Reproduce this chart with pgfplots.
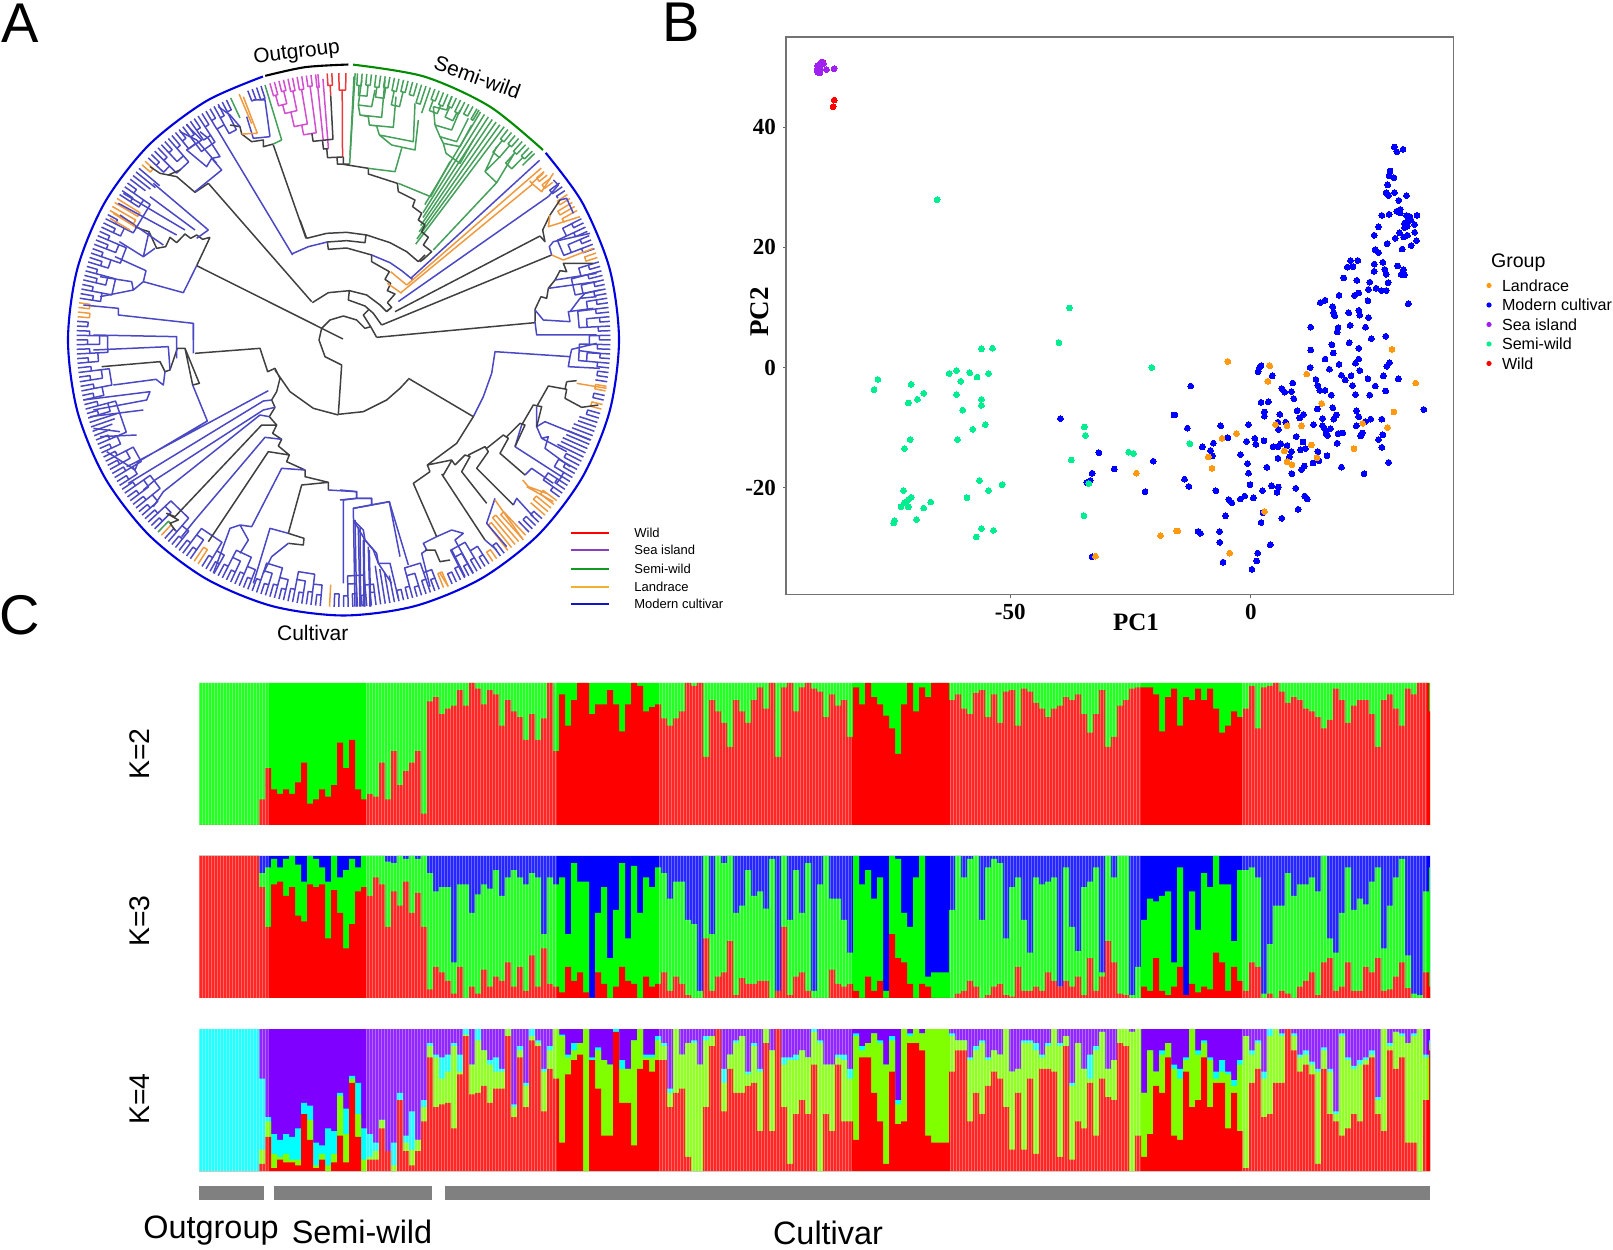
\documentclass[border=0pt]{standalone}
\usepackage{fontspec}
\usepackage{pgfplots}
\usepackage{pgfplotstable}
\pgfplotsset{compat=1.18}
\setmainfont{Liberation Sans}
\newfontfamily\tnr{Liberation Serif}
\definecolor{tb}{HTML}{4A48C4}
\definecolor{tk}{HTML}{404040}
\definecolor{tg}{HTML}{44A05A}
\definecolor{to}{HTML}{F09A40}
\definecolor{tm}{HTML}{D24FD0}
\definecolor{tr}{HTML}{E83A3A}
\definecolor{sw}{HTML}{00EE90}
\definecolor{lan}{HTML}{FF9A10}
\definecolor{sea}{HTML}{A020F0}
\definecolor{lime}{HTML}{80FF00}
\definecolor{pur}{HTML}{8000FF}
\definecolor{cy}{HTML}{00FFFF}
\definecolor{rd}{HTML}{FF0000}
\definecolor{gr}{HTML}{00FF00}
\definecolor{bl}{HTML}{0000FF}
\definecolor{lpur}{HTML}{8A3FC0}
\definecolor{lorg}{HTML}{F2B02E}
\definecolor{lgrn}{HTML}{109A20}
\definecolor{lblu}{HTML}{1414C8}
\definecolor{bargrey}{HTML}{808080}
\pgfplotsset{
  pg/.style={at={(0,0)},anchor=south west,scale only axis,width=806.5pt,height=624.5pt,hide axis,clip=false},
  q/.style 2 args={x filter/.expression={x/3+#1},y filter/.expression={y/3+#2}},
  tl/.style={no markers,line width=.75pt,empty line=jump,line join=round},
  st/.style={at={(99.5pt,#1)},anchor=south west,scale only axis,width=615.5pt,height=71pt,hide axis,xmin=0,xmax=1231,ymin=0,ymax=100},
  lay/.style={const plot,draw=none,fill=#1,no markers},
  dot/.style={only marks,mark=*,mark size=1.45pt,color=#1,mark options={draw=#1,fill=#1,line width=0pt}}
}
% structure rows: one row per 6 px bin, cumulative share from the bottom
\pgfplotstableread[header=false]{
0
0
0
0
0
0
0
0
0
0
18
40
25
22
25
22
30
44
15
18
25
20
28
58
40
60
25
18
22
20
44
18
52
28
38
44
52
8
87
90
78
82
84
95
84
100
96
85
95
92
70
88
80
76
60
78
60
75
100
52
92
70
88
100
100
78
85
85
95
85
66
85
100
98
80
83
85
75
70
75
80
100
98
100
48
88
80
72
55
88
80
72
88
97
82
100
48
97
100
80
97
100
96
94
76
92
84
88
62
97
85
100
90
85
77
68
50
85
100
80
97
90
100
100
100
88
92
82
78
93
95
76
92
72
94
95
70
96
94
86
82
76
82
84
90
88
92
78
65
78
95
55
62
84
88
96
97
97
97
92
66
90
96
70
90
88
96
88
96
82
65
70
80
76
82
98
68
97
98
100
94
86
90
88
82
80
76
68
74
96
88
72
84
88
88
78
55
88
92
82
70
96
92
100
100
80
80
80
}\ktwo
\pgfplotstableread[header=false]{
100 100
100 100
100 100
100 100
100 100
100 100
100 100
100 100
100 100
100 100
78 88
50 92
80 98
82 92
72 98
78 100
58 94
54 82
80 100
78 98
80 92
42 82
76 100
60 85
35 90
52 98
75 92
78 100
72 100
85 100
80 100
50 96
75 95
65 100
82 98
60 100
74 98
50 100
6 88
22 75
18 78
12 78
3 25
22 80
0 80
8 60
3 73
20 80
8 77
15 90
12 72
25 85
8 90
22 85
5 80
30 88
8 85
35 45
10 85
8 80
4 85
22 45
12 95
18 82
4 82
0 0
18 60
10 78
0 28
8 62
22 95
12 42
10 93
0 60
15 85
8 78
10 92
18 88
5 70
15 82
10 82
2 55
0 52
0 5
42 100
5 45
15 100
18 95
40 100
2 60
14 65
10 90
10 72
12 75
12 63
0 98
5 5
50 100
2 55
15 90
18 60
5 95
0 5
0 80
0 100
20 70
10 70
8 55
10 32
5 100
0 80
15 90
5 70
12 85
0 5
45 100
28 98
25 60
10 50
0 85
10 100
8 15
0 18
0 18
0 18
0 62
3 100
5 85
12 98
8 100
0 55
2 92
8 98
10 95
2 42
1 78
22 85
5 55
5 32
8 85
5 80
18 82
12 85
8 8
12 92
8 50
15 33
2 78
28 82
5 92
15 18
40 100
25 85
3 100
2 100
0 2
0 22
8 55
5 70
28 68
5 72
2 75
8 25
22 92
2 2
10 75
4 48
8 88
6 78
32 100
25 80
5 80
22 40
12 90
5 90
25 92
22 85
0 3
3 38
0 65
5 65
3 88
0 72
8 80
12 80
18 85
2 75
25 100
28 42
5 32
8 60
25 92
5 62
5 70
22 66
18 82
28 92
5 35
6 65
15 85
25 98
7 30
0 3
0 2
18 75
8 92
8 92
8 92
}\kthree
\pgfplotstableread[header=false]{
0 0 100
0 0 100
0 0 100
0 0 100
0 0 100
0 0 100
0 0 100
0 0 100
0 0 100
0 0 100
5 15 65
24 35 38
2 12 26
8 10 22
6 12 26
6 8 24
4 8 30
40 40 48
22 36 46
2 4 20
8 12 18
0 4 30
6 12 28
25 53 55
6 26 44
62 65 67
24 40 62
0 8 30
8 10 26
8 14 20
30 36 36
14 14 14
0 4 20
50 50 55
14 20 25
4 15 42
14 22 22
35 45 50
80 88 90
45 80 82
47 65 80
48 70 82
30 88 90
68 70 82
95 96 100
54 75 75
55 92 100
60 85 85
48 75 78
58 70 80
58 70 72
95 100 100
38 45 47
80 85 88
45 60 62
92 95 100
88 90 92
42 70 72
72 85 88
65 100 100
20 95 96
68 80 82
78 85 90
82 90 90
0 100 100
78 78 80
58 85 87
25 78 78
25 75 75
98 98 100
48 72 78
48 72 72
18 92 92
72 100 100
78 80 82
70 80 82
78 92 95
78 88 90
45 55 58
55 100 100
58 82 82
10 90 90
0 90 92
0 75 75
45 92 95
88 95 95
100 100 100
42 62 72
72 82 82
55 90 92
55 95 95
60 68 70
62 88 90
28 70 72
90 100 100
28 85 85
100 100 100
45 75 80
5 78 80
40 78 82
50 85 85
40 80 80
75 98 100
0 90 92
40 75 75
28 75 75
75 80 82
35 78 82
35 65 72
22 95 97
80 85 88
80 90 90
55 97 97
35 90 92
5 75 75
70 92 95
33 47 50
35 100 100
90 95 97
90 100 100
85 97 97
25 100 100
20 100 100
20 100 100
20 100 100
70 95 97
85 92 92
85 92 92
35 78 80
55 85 88
40 90 92
60 78 80
70 85 85
65 82 82
45 100 100
15 70 70
55 72 72
15 90 92
65 90 92
12 85 90
72 80 82
72 88 90
70 100 100
10 88 90
88 95 95
8 60 62
35 90 90
30 72 72
62 65 82
25 85 88
65 98 98
52 72 72
50 78 78
90 100 100
88 100 100
0 98 98
25 100 100
10 55 55
26 85 85
60 70 70
55 82 85
80 90 90
25 72 75
22 65 72
70 78 80
45 100 100
50 82 85
80 90 92
45 78 80
62 65 70
62 70 78
30 68 70
55 60 64
28 75 78
2 95 95
62 82 85
72 90 92
38 65 70
40 95 100
62 100 100
62 95 97
100 100 100
85 95 97
70 80 82
75 82 85
68 75 77
5 70 72
72 85 87
40 70 72
35 40 42
25 95 97
30 78 80
40 72 74
35 75 78
75 78 80
80 82 85
40 50 52
28 100 100
85 88 90
72 98 98
80 95 97
20 90 90
20 95 97
0 100 100
50 80 82
85 90 92
85 90 92
85 90 92
}\kfour
\begin{document}
\begin{tikzpicture}
\path[use as bounding box] (0,0) rectangle (806.5pt,624.5pt);
% panel A, tips and clades in polar form about the tree centre
\begin{axis}[pg,xmin=-343.5,xmax=1269.5,ymin=-909,ymax=340,data cs=polar]
\addplot[no markers,smooth,line width=1.05pt,black] coordinates {(106.5,275.5)(98,275.5)(89,275.5)};
\addplot[no markers,smooth,line width=1.05pt,green!55!black] coordinates {(88,275.5)(73,275.5)(58,275.5)(43.6,275.5)};
\addplot[no markers,smooth,line width=1.05pt,blue!88!black] coordinates {(42.8,275.5)(30,275.5)(15,275.5)(0,275.5)(-15,275.5)(-30,275.5)(-45,275.5)(-60,275.5)(-75,275.5)(-90,275.5)(-105,275.5)(-120,275.5)(-135,275.5)(-150,275.5)(-165,275.5)(-180,275.5)(-195,275.5)(-210,275.5)(-225,275.5)(-240,275.5)(-253,275.5)};
\addplot[tl,tm] coordinates {
(106,267)(106,254)(105,254)(105,267)

(104,267)(104,256)(103,256)(103,267)

(102,267)(102,254)(101,254)(101,267)

(100,267)(100,254)(99,254)(99,267)

(98,267)(98,256)(97,256)(97,267)

(96,267)(96,254)(95.5,254)(95.5,267)

(105.5,254)(105.5,243)(103.5,243)(103.5,256)

(104.5,243)(104.5,234)(101.5,234)(101.5,254)

(103,234)(103,219)(99.5,219)(99.5,254)

(101,219)(101,209)(97.5,209)(97.5,256)

(95.8,254)(95.8,201)

(94.5,192)(94.5,262)
};
\addplot[tl,tr] coordinates {
(93.5,267)(93.5,255)(92.5,255)(92.5,267)

(93,255)(93,245)

(91,267)(91,250)(89.5,250)(89.5,267)

(90.3,250)(90.3,183)
};
\addplot[tl,tk] coordinates {
(98.7,209)(98.7,201)(93,201)(93,245)

(96,201)(96,192)(94.5,192)

(95,192)(95,183)(90.3,183)

(92,183)(92,176)(88,176)
};
\addplot[tl,tg] coordinates {
(88,176)(87.5,267)

(87,267)(87,255)(86,255)(86,267)

(85,267)(85,256)(84,256)(84,267)

(83,267)(83,255)(82,255)(82,267)

(81,267)(81,256)(80,256)(80,267)

(79,267)(79,254)(78,254)(78,267)

(77,267)(77,255)(76,255)(76,267)

(75,267)(75,254)(74,254)(74,267)

(73,267)(73,248)(72,248)(72,267)

(71,267)(71,240)

(70,267)(70,256)(69,256)(69,267)

(68,267)(68,254)(67,254)(67,267)

(66,267)(66,256)(65,256)(65,267)

(64,267)(64,254)(63,254)(63,267)

(62,267)(62,256)(61,256)(61,267)

(60,267)(60,255)(59.5,255)(59.5,267)

(59,158)(59,266)

(58,150)(58,266)

(57,146)(57,266)

(56,138)(56,266)

(55,132)(55,266)

(54,125)(54,266)

(53,267)(53,120)

(52,267)(52,255)(51,255)(51,267)

(50,267)(50,256)(49,256)(49,267)

(48,267)(48,254)(47,254)(47,267)

(46,267)(46,256)(45,256)(45,267)

(44.3,267)(44.3,250)

(51.5,255)(51.5,240)(49.5,240)(49.5,256)

(47.5,254)(47.5,240)(45.5,240)(45.5,256)

(86.5,255)(86.5,245)(84.5,245)(84.5,256)

(82.5,255)(82.5,245)(80.5,245)(80.5,256)

(78.5,254)(78.5,240)(76.5,240)(76.5,255)

(69.5,256)(69.5,245)(67.5,245)(67.5,254)

(65.5,256)(65.5,245)(63.5,245)(63.5,254)
};
\addplot[tl,to] coordinates {
(41,84)(41,262)

(39.5,75)(39.5,245)(40.5,245)

(40,262)(40,252)(39,252)(39,262)

(38,262)(38,252)(37,252)(37,262)

(33,267)(33,255)(32,255)(32,267)

(31,267)(31,250)(30,250)(30,267)

(29,267)(29,250)(28,250)

(19,267)(19,255)(18,255)(18,267)

(-10,267)(-10,256)(-11,256)(-11,267)

(-14,267)(-14,256)(-15,256)(-15,267)

(-37,267)(-37,250)(-38,250)(-38,267)

(-39,267)(-39,248)(-40,248)(-40,267)

(-41,267)(-41,248)

(-47,267)(-47,235)(-48,235)(-48,267)

(-49,267)(-49,232)(-50,232)(-50,267)

(-51,267)(-51,235)(-52,235)(-52,267)

(-55,267)(-55,256)(-56,256)(-56,267)

(-67,267)(-67,252)(-68,252)(-68,267)

(-93,267)(-93,245)

(-123,267)(-123,250)(-124,250)(-124,267)

(-133,267)(-133,252)

(-185,267)(-185,255)(-186,255)(-186,267)

(-187,267)(-187,256)(-188,256)(-188,267)

(-209,267)(-209,240)(-210,240)(-210,267)

(-211,267)(-211,240)(-212,240)(-212,267)

(-221,267)(-221,256)(-222,256)(-222,267)

(-247,267)(-247,235)
};
\addplot[tl,tg] coordinates {
(-134,267)(-134,252)(-133,252)

(-245,267)(-245,245)
};
\addplot[tl,tb] coordinates {
(42.5,92)(42.5,266)

(35,67)(35,250)

(36,267)(36,255)(35,255)(35,267)

(34,267)(34,257)(33.5,257)

(27,267)(27,256)(26,256)(26,267)

(25,267)(25,254)(24,254)(24,267)

(23,267)(23,257)(22,257)(22,267)

(21,267)(21,255)(20,255)(20,267)

(17,267)(17,256)(16,256)(16,267)

(15,267)(15,253)(14,253)(14,267)

(13,267)(13,257)(12,257)(12,267)

(11,267)(11,255)(10,255)(10,267)

(9,267)(9,256)(8,256)(8,267)

(7,267)(7,254)(6,254)(6,267)

(5,267)(5,257)(4,257)(4,267)

(3,267)(3,255)(2,255)(2,267)

(1,267)(1,256)(0,256)(0,267)

(-1,267)(-1,254)(-2,254)(-2,267)

(-3,267)(-3,257)(-4,257)(-4,267)

(-5,267)(-5,255)(-6,255)(-6,267)

(-7,267)(-7,256)(-8,256)(-8,267)

(-9,267)(-9,255)

(-12,267)(-12,256)(-13,256)(-13,267)

(-16,267)(-16,254)(-17,254)(-17,267)

(-18,267)(-18,248)

(-19,267)(-19,248)

(-20,267)(-20,245)

(-21,267)(-21,245)

(-22,267)(-22,242)

(-23,267)(-23,242)

(-24,267)(-24,240)

(-25,267)(-25,240)

(-26,267)(-26,238)

(-27,267)(-27,250)(-28,250)(-28,267)

(-29,267)(-29,254)(-30,254)(-30,267)

(-31,267)(-31,257)(-32,257)(-32,267)

(-33,267)(-33,255)(-34,255)(-34,267)

(-35,267)(-35,256)(-36,256)(-36,267)

(-42,267)(-42,256)(-43,256)(-43,267)

(-44,267)(-44,254)(-45,254)(-45,267)

(-46,267)(-46,252)

(-53,267)(-53,254)(-54,254)(-54,267)

(-57,267)(-57,256)(-58,256)(-58,267)

(-59,267)(-59,254)(-60,254)(-60,267)

(-61,267)(-61,256)(-62,256)(-62,267)

(-63,267)(-63,254)(-64,254)(-64,267)

(-65,267)(-65,256)(-66,256)(-66,267)

(-69,267)(-69,255)(-70,255)(-70,267)

(-71,267)(-71,253)(-72,253)(-72,267)

(-73,267)(-73,257)(-74,257)(-74,267)

(-75,267)(-75,255)(-76,255)(-76,267)

(-77,267)(-77,256)(-78,256)(-78,267)

(-79,267)(-79,240)

(-80,267)(-80,236)

(-81,267)(-81,232)

(-82,267)(-82,228)

(-83,267)(-83,254)(-84,254)(-84,267)

(-85,267)(-85,256)(-86,256)(-86,267)

(-87,267)(-87,254)(-88,254)(-88,267)

(-89,267)(-89,256)(-90,256)(-90,267)

(-91,267)(-91,254)(-92,254)(-92,267)

(-95,267)(-95,256)(-96,256)(-96,267)

(-97,267)(-97,254)(-98,254)(-98,267)

(-99,267)(-99,256)(-100,256)(-100,267)

(-101,267)(-101,254)(-102,254)(-102,267)

(-103,267)(-103,256)(-104,256)(-104,267)

(-105,267)(-105,254)(-106,254)(-106,267)

(-107,267)(-107,256)(-108,256)(-108,267)

(-109,267)(-109,254)(-110,254)(-110,267)

(-111,267)(-111,256)(-112,256)(-112,267)

(-113,267)(-113,254)(-114,254)(-114,267)

(-115,267)(-115,256)(-116,256)(-116,267)

(-117,267)(-117,254)(-118,254)(-118,267)

(-119,267)(-119,256)(-120,256)(-120,267)

(-121,267)(-121,254)(-122,254)(-122,267)

(-125,267)(-125,256)(-126,256)(-126,267)

(-127,267)(-127,254)(-128,254)(-128,267)

(-129,267)(-129,256)(-130,256)(-130,267)

(-131,267)(-131,254)(-132,254)(-132,267)

(-135,267)(-135,256)(-136,256)(-136,267)

(-137,267)(-137,254)(-138,254)(-138,267)

(-139,267)(-139,256)(-140,256)(-140,267)

(-141,267)(-141,254)(-142,254)(-142,267)

(-143,267)(-143,256)(-144,256)(-144,267)

(-145,267)(-145,254)(-146,254)(-146,267)

(-147,267)(-147,256)(-148,256)(-148,267)

(-149,267)(-149,254)(-150,254)(-150,267)

(-151,267)(-151,256)(-152,256)(-152,267)

(-153,267)(-153,254)(-154,254)(-154,267)

(-155,267)(-155,256)(-156,256)(-156,267)

(-157,267)(-157,254)(-158,254)(-158,267)

(-159,267)(-159,250)

(-160,267)(-160,246)

(-161,267)(-161,242)

(-162,267)(-162,238)

(-163,267)(-163,256)(-164,256)(-164,267)

(-165,267)(-165,254)(-166,254)(-166,267)

(-167,267)(-167,256)(-168,256)(-168,267)

(-169,267)(-169,254)(-170,254)(-170,267)

(-171,267)(-171,256)(-172,256)(-172,267)

(-173,267)(-173,254)(-174,254)(-174,267)

(-175,267)(-175,256)(-176,256)(-176,267)

(-177,267)(-177,254)(-178,254)(-178,267)

(-179,267)(-179,256)(-180,256)(-180,267)

(-181,267)(-181,254)(-182,254)(-182,267)

(-183,267)(-183,256)(-184,256)(-184,267)

(-189,267)(-189,254)(-190,254)(-190,267)

(-191,267)(-191,256)(-192,256)(-192,267)

(-193,267)(-193,254)(-194,254)(-194,267)

(-195,267)(-195,256)(-196,256)(-196,267)

(-197,267)(-197,254)(-198,254)(-198,267)

(-199,267)(-199,256)(-200,256)(-200,267)

(-201,267)(-201,254)(-202,254)(-202,267)

(-203,267)(-203,256)(-204,256)(-204,267)

(-205,267)(-205,254)(-206,254)(-206,267)

(-207,267)(-207,256)(-208,256)(-208,267)

(-213,267)(-213,254)(-214,254)(-214,267)

(-215,267)(-215,256)(-216,256)(-216,267)

(-217,267)(-217,248)

(-218,267)(-218,245)

(-219,267)(-219,242)

(-220,267)(-220,240)

(-223,267)(-223,256)(-224,256)(-224,267)

(-225,267)(-225,254)(-226,254)(-226,267)

(-227,267)(-227,256)(-228,256)(-228,267)

(-229,267)(-229,254)(-230,254)(-230,267)

(-231,267)(-231,256)(-232,256)(-232,267)

(-233,267)(-233,254)(-234,254)(-234,267)

(-235,267)(-235,256)(-236,256)(-236,267)

(-237,267)(-237,254)(-238,254)(-238,267)

(-239,267)(-239,256)(-240,256)(-240,267)

(-241,267)(-241,254)(-242,254)(-242,267)

(-243,267)(-243,256)(-244,256)(-244,267)

(-249,267)(-249,256)(-250,256)(-250,267)

(-251,267)(-251,254)(-252,254)(-252,267)
};
\addplot[tl,tb] coordinates {
(27,256)(27,246)(25,246)(25,254)

(23,257)(23,244)(21,244)(21,255)

(17,256)(17,246)(15,246)(15,253)

(13,257)(13,244)(11,244)(11,255)

(9,256)(9,246)(7,246)(7,254)

(5,257)(5,244)(3,244)(3,255)

(1,256)(1,246)(-1,246)(-1,254)

(-3,257)(-3,244)(-5,244)(-5,255)

(-29,254)(-29,246)(-31,246)(-31,257)

(-33,255)(-33,244)(-35,244)(-35,256)

(-57,256)(-57,246)(-59,246)(-59,254)

(-61,256)(-61,244)(-63,244)(-63,254)

(-69,255)(-69,246)(-71,246)(-71,253)

(-73,257)(-73,244)(-75,244)(-75,255)

(-83,254)(-83,246)(-85,246)(-85,256)

(-87,254)(-87,244)(-89,244)(-89,256)

(-95,256)(-95,246)(-97,246)(-97,254)

(-99,256)(-99,244)(-101,244)(-101,254)

(-103,256)(-103,246)(-105,246)(-105,254)

(-107,256)(-107,244)(-109,244)(-109,254)

(-111,256)(-111,246)(-113,246)(-113,254)

(-115,256)(-115,244)(-117,244)(-117,254)

(-119,256)(-119,246)(-121,246)(-121,254)

(-125,256)(-125,244)(-127,244)(-127,254)

(-129,256)(-129,246)(-131,246)(-131,254)

(-135,256)(-135,244)(-137,244)(-137,254)

(-139,256)(-139,246)(-141,246)(-141,254)

(-143,256)(-143,244)(-145,244)(-145,254)

(-147,256)(-147,246)(-149,246)(-149,254)

(-151,256)(-151,244)(-153,244)(-153,254)

(-155,256)(-155,246)(-157,246)(-157,254)

(-163,256)(-163,244)(-165,244)(-165,254)

(-167,256)(-167,246)(-169,246)(-169,254)

(-171,256)(-171,244)(-173,244)(-173,254)

(-175,256)(-175,246)(-177,246)(-177,254)

(-179,256)(-179,244)(-181,244)(-181,254)

(-189,254)(-189,246)(-191,246)(-191,256)

(-193,254)(-193,244)(-195,244)(-195,256)

(-197,254)(-197,246)(-199,246)(-199,256)

(-201,254)(-201,244)(-203,244)(-203,256)

(-205,254)(-205,246)(-207,246)(-207,256)

(-213,254)(-213,244)(-215,244)(-215,256)

(-223,256)(-223,246)(-225,246)(-225,254)

(-227,256)(-227,244)(-229,244)(-229,254)

(-231,256)(-231,246)(-233,246)(-233,254)

(-235,256)(-235,244)(-237,244)(-237,254)

(-239,256)(-239,246)(-241,246)(-241,254)

(25,246)(25,236)(21,236)(21,244)

(15,246)(15,236)(11,236)(11,244)

(7,246)(7,236)(3,236)(3,244)

(-1,246)(-1,236)(-5,236)(-5,244)

(-59,246)(-59,236)(-63,236)(-63,244)

(-71,246)(-71,236)(-75,236)(-75,244)

(-85,246)(-85,236)(-89,236)(-89,244)

(-97,246)(-97,236)(-101,236)(-101,244)

(-105,246)(-105,236)(-109,236)(-109,244)

(-113,246)(-113,236)(-117,236)(-117,244)

(-121,246)(-121,236)(-127,236)(-127,244)

(-131,246)(-131,236)(-137,236)(-137,244)

(-141,246)(-141,236)(-145,236)(-145,244)

(-149,246)(-149,236)(-153,236)(-153,244)

(-157,246)(-157,236)(-165,236)(-165,244)

(-169,246)(-169,236)(-173,236)(-173,244)

(-177,246)(-177,236)(-181,236)(-181,244)

(-191,246)(-191,236)(-195,236)(-195,244)

(-199,246)(-199,236)(-203,236)(-203,244)

(-207,246)(-207,236)(-215,236)(-215,244)

(-225,246)(-225,236)(-229,236)(-229,244)

(-233,246)(-233,236)(-237,236)(-237,244)

(-241,246)(-241,236)(-243,236)(-243,256)
};
\end{axis}
% panel A, inner branches read off in picture pixels
\begin{axis}[pg,xmin=0,xmax=1613,ymin=0,ymax=1249,y dir=reverse]
\addplot[tl,tk,q={0}{0}] coordinates {
(590,797)(1029,1017)

(625,550)(935,905)

(820,435)(918,715)

(630,712)(590,797)

(625,550)(585,577)(530,530)(505,525)(540,510)

(820,432)(790,440)(790,420)(755,425)(725,402)(720,380)(690,375)

(630,712)(608,718)(590,705)(572,715)(555,702)(530,728)(510,712)(497,740)(470,745)(447,695)(430,690)(405,680)

(505,525)(480,520)(450,500)
};
\addplot[tl,tb,q={0}{0}] coordinates {
(650,385)(878,765)

(625,690)(590,715)

(625,690)(460,550)

(585,690)(450,590)

(555,690)(370,580)

(530,705)(355,610)

(490,735)(360,645)

(430,770)(358,725)

(447,695)(430,770)(465,745)

(590,797)(550,878)(430,845)(438,812)(345,770)

(430,845)(400,870)(395,845)(300,830)

(400,870)(300,890)

(580,1020)(580,970)(355,945)(355,925)(250,915)

(585,575)(665,510)(635,475)(620,500)(560,450)(605,420)(560,375)

(635,475)(660,470)(625,415)(600,395)

(650,490)(590,420)(540,395)

(810,410)(795,300)(760,300)

(810,410)(760,415)(740,350)

(720,380)(690,345)(655,320)
};
\addplot[tl,tg,q={0}{0}] coordinates {
(845,420)(795,255)

(845,420)(820,432)
};
\addplot[tl,to,q={0}{0}] coordinates {
(772,400)(730,290)

(725,402)(772,400)

(405,680)(340,640)

(390,690)(330,655)
};
\addplot[tl,tk,q={250}{220}] coordinates {
(170,55)(230,40)(290,37)(350,45)(420,68)(470,95)(505,125)(525,105)

(170,55)(150,0)

(348,45)(345,68)(290,62)(232,66)(235,88)(290,84)(365,105)(365,125)(418,155)(405,178)(422,190)(412,212)(435,222)(412,248)(425,262)(412,272)

(187,248)(235,218)(298,212)(350,225)(390,255)(410,275)(425,262)

(298,212)(295,240)(345,258)(370,280)(395,315)

(355,270)(340,285)(362,320)(345,325)(320,300)(280,288)(240,300)(215,325)(207,360)(225,410)(275,435)(265,583)

(362,320)(380,352)

(265,583)(340,575)(410,540)(450,505)(475,478)
};
\addplot[tl,tb,q={250}{220}] coordinates {
(232,66)(175,80)(125,102)

(365,105)(420,128)(455,152)(487,178)
};
\addplot[tl,to,q={250}{220}] coordinates {
(422,155)(470,195)

(412,190)(455,220)
};
\addplot[tl,tk,q={340}{0}] coordinates {
(110,1012)(585,968)

(125,975)(635,765)

(165,935)(600,708)

(10,470)(10,493)(85,505)(85,522)(172,550)(175,575)(225,600)(218,620)(245,640)(235,660)(255,675)(245,695)(265,712)(250,735)(275,755)(250,778)(240,785)

(585,965)(585,928)(603,890)(620,895)(625,865)(645,840)(660,812)(680,815)(670,790)(760,790)

(600,708)(615,725)(608,690)(630,645)(660,600)
};
\addplot[tl,tb,q={340}{0}] coordinates {
(585,930)(610,960)(690,965)(685,935)(760,925)

(585,965)(590,1005)(770,1005)

(645,840)(770,820)

(625,865)(770,845)

(640,725)(750,700)

(635,765)(628,740)(640,725)

(660,600)(680,595)(700,640)

(690,935)(720,895)(770,890)

(720,895)(735,880)(780,870)

(625,590)(655,555)(640,540)
};
\addplot[tl,to,q={340}{0}] coordinates {
(635,765)(670,780)(760,745)

(630,645)(625,680)(720,650)

(575,550)(605,575)(640,520)

(575,550)(610,520)
};
\addplot[tl,tg,q={340}{0}] coordinates {
(30,465)(42,230)

(85,505)(165,515)(185,445)

(55,315)(95,320)(105,270)

(55,315)(65,240)

(60,345)(125,352)(135,240)

(88,375)(160,382)(168,290)

(118,405)(220,425)(225,310)

(155,435)(225,450)(235,360)

(118,405)(110,378)(88,375)(85,350)(60,345)(55,315)

(155,435)(118,405)

(175,550)(272,590)(330,485)

(280,320)(320,330)(335,290)

(285,375)(335,390)(360,330)

(300,410)(350,425)(385,355)

(310,430)(360,440)(395,375)

(318,460)(360,490)(400,420)

(280,320)(285,375)(300,410)(310,430)(318,460)

(280,750)(470,548)(435,515)(480,470)

(470,548)(520,465)

(435,515)(470,440)
};
\addplot[tl,tk,q={0}{320}] coordinates {
(585,100)(780,85)(803,155)(825,145)(840,175)(830,215)(815,240)(825,262)(808,290)(830,315)(818,340)(845,358)(835,378)(868,405)(860,425)(915,450)(915,470)(985,487)(985,510)

(825,150)(870,215)(940,265)(1015,285)

(830,315)(785,315)(525,590)

(868,405)(805,395)(625,665)

(985,487)(905,495)(865,640)

(865,640)(912,655)(910,675)(865,670)

(305,140)(480,125)(495,155)(510,150)(532,85)(555,85)(598,190)(578,195)(555,85)

(525,590)(500,580)(535,600)(510,610)(525,630)
};
\addplot[tl,tb,q={0}{320}] coordinates {
(805,212)(405,428)(380,440)

(815,240)(790,243)(385,490)

(825,262)(790,270)(465,480)(430,510)

(808,290)(780,285)(490,515)(460,560)

(845,358)(795,352)(585,600)(545,650)

(915,450)(845,445)(755,620)(720,615)(690,625)(640,760)

(720,615)(745,660)(720,700)

(985,510)(1070,515)(1070,535)(1030,540)(1030,790)

(1070,535)(1115,535)(1115,555)(1060,565)(1065,860)

(1060,565)(1168,545)(1200,710)

(1075,620)(1080,860)

(1090,660)(1092,860)

(1105,680)(1110,860)

(1060,600)(1095,660)(1130,700)(1135,730)(1175,790)

(865,670)(815,710)(790,760)

(865,640)(810,625)(760,790)

(280,45)(530,50)(530,115)

(280,90)(505,80)(510,150)

(340,195)(468,178)(490,195)(495,155)

(250,240)(450,215)(440,240)(280,270)

(430,270)(270,290)

(578,195)(622,303)(415,425)(405,450)(320,395)

(580,10)(580,100)

(360,335)(280,325)

(410,345)(300,350)
};
\addplot[tl,tb,q={340}{320}] coordinates {
(0,510)(50,515)(50,535)(0,540)

(50,535)(95,535)(95,555)(40,565)(148,545)(205,735)

(45,600)(50,860)

(60,620)(62,860)

(72,650)(75,860)

(88,690)(92,860)

(40,600)(70,630)(75,660)(100,690)(115,730)(150,730)(175,835)

(400,290)(430,230)(455,160)(465,95)(690,110)(685,140)(780,145)

(690,110)(695,88)(770,70)

(718,92)(780,100)

(590,320)(605,355)(680,395)

(590,320)(615,305)(750,360)

(525,380)(665,470)(650,490)

(605,355)(625,350)(615,385)(690,440)

(555,465)(575,445)(640,490)

(290,650)(250,670)(260,690)(245,700)(270,800)

(290,650)(335,630)(370,640)(345,660)(400,760)

(335,690)(375,770)

(465,535)(440,610)(500,680)

(520,555)(530,535)(580,590)

(435,660)(470,690)

(590,260)(590,320)

(545,315)(525,380)
};
\addplot[tl,tk,q={340}{320}] coordinates {
(205,175)(400,290)

(400,290)(350,370)(262,435)(270,455)

(262,435)(335,420)(345,435)

(270,455)(220,490)(290,650)

(310,465)(335,422)

(305,462)(435,660)

(345,435)(375,405)(390,410)(365,455)(440,550)

(385,405)(435,380)(445,395)(410,445)(520,555)

(440,385)(490,345)(505,355)(480,400)(555,465)

(500,350)(540,310)(555,315)(525,380)

(545,315)(580,255)(605,260)(590,320)

(590,260)(625,198)(680,208)(675,235)(725,262)(775,255)

(680,185)(675,208)

(680,185)(710,182)

(255,690)(285,690)(300,725)(330,720)
};
\addplot[tl,to,q={340}{320}] coordinates {
(710,190)(800,205)

(548,480)(565,500)(620,520)

(560,500)(640,545)

(465,540)(550,660)

(300,760)(325,800)
};
\end{axis}
% panel B
\begin{axis}[at={(393pt,327.2pt)},anchor=south west,scale only axis,width=333.8pt,height=278.8pt,
  xmin=-96.6,xmax=42.1,ymin=-37.8,ymax=55,axis lines=box,xtick pos=bottom,ytick pos=left,
  xtick={-50,0},ytick={-20,0,20,40},tick align=outside,major tick length=1.5pt,
  axis line style={draw=black!55,line width=.8pt},tick style={draw=black!60,line width=.5pt},
  /pgf/number format/assume math mode=true,
  tick label style={font=\tnr\bfseries\fontsize{11.5}{12}\selectfont}]
\addplot[dot=bl] coordinates {
(29.8,36.7)(30.3,35.9)(31.6,36.3)(28.9,32.7)(28.7,31.9)(29.7,31.6)(28.4,30.4)(28.1,29.1)(28.6,28.6)(29.8,29.1)(32.3,28.6)(30.7,27.8)
(27.2,25.3)(28.7,25.5)(30.3,26)(31,26.3)(31,25.7)(32.3,25.3)(33,25.1)(34.5,25.3)(32.6,24.3)(31.9,24)(34,23.8)(32.5,23.5)(31.9,23.3)(33.2,24.6)
(26.5,23.4)(25.6,22)(30.9,22.4)(30,21.5)(31.7,21.7)(32.5,22)(34,22.5)(34.4,21.1)(33.3,20.3)(31.4,19.7)(28.3,20.6)
(25.8,19.6)(26.5,19.1)(22.2,17.8)(20.7,17.8)(20,16.7)(21.2,16.8)(27.4,17.5)(25.6,17.2)(25.6,16)(27.8,16.3)(28.1,15.5)(30.5,16.9)(31.7,16.3)(31.2,15.5)(31.9,15.4)
(19.3,14.9)(22,14.5)(24.7,14.2)(28.5,14.1)(24.4,13)(26,13.2)(27.1,12.8)(28.1,12.8)(22.4,12.4)(21.5,12)(18.3,12)(32.7,10.6)
(24.3,11.1)(15.4,11.2)(14.4,10.8)(17,10.1)(17.2,9.1)(17.4,8.6)(20.3,9.1)(22.4,9.5)(22.6,8.7)(24.4,8.3)
(12.4,6.7)(18.1,6.6)(17.9,5.9)(20.6,7)(23.8,6.7)(25,4.8)(28,5.2)(16.8,3.8)(20.4,4.1)(22.4,3.2)(12.4,2.9)(17.1,2.4)(22.4,1.4)(15.4,1.4)(21.7,.7)(18.3,.5)(28.8,.8)(28.2,.2)
(12.3,0)(16.3,-.3)(22.6,-.5)(2.1,.3)(1.8,0)(1.5,-.7)(4.4,-1.4)(18.8,-1.3)(20.8,-1.4)(19.6,-2.1)(27.5,-1.4)(24.3,-1.9)(30.6,-1.9)
(13.5,-2)(13.9,-3)(8.7,-2.6)(-12.5,-3.1)(6.4,-3.5)(7,-4.1)(8.4,-4)(14.3,-3.8)(15.4,-3.8)(21.1,-3)(25.8,-3.1)(28,-3.9)
(16.7,-4.6)(21.7,-4.5)(24.7,-4.6)(8.9,-5.2)(2.1,-5.8)(3.6,-5.7)(17,-6.7)(13.8,-6.9)(9.6,-7.2)(21.9,-7.2)(35.9,-7)
(-15.8,-7.9)(2.8,-7.4)(2.8,-8.1)(6,-7.8)(10.9,-7.8)(10.1,-8.4)(17.7,-7.9)(17.2,-8.6)(22.4,-8.2)(24.9,-8.6)(27.2,-8.6)(14.9,-8.5)(23.8,-9)
(-13.2,-10.1)(-6.3,-9.7)(-.5,-9.5)(5.6,-9.1)(7.2,-9.1)(5.7,-10.3)(13,-9.5)(14.9,-9.7)(21.9,-9.7)
(15.3,-10.2)(16.5,-10.2)(15.6,-10.9)(18.1,-11)(19.1,-10.9)(23.1,-10.9)(22.8,-11.4)(27.4,-11.2)(26.5,-12)(15.9,-11.3)
(-7.8,-12.6)(-4.8,-11.7)(-.9,-12.3)(.8,-11.8)(1,-12.8)(2.7,-12.2)(9.4,-11.5)(17.9,-12.6)(10.8,-12.4)(27.2,-13.3)
(-10.1,-13.2)(-8.4,-13.8)(-8,-14.7)(-2.2,-14.5)(4.6,-13.2)(5.6,-13.2)(6.2,-12.7)(7.5,-13)(8.4,-14)(8,-14.9)(5.6,-15.1)(10.3,-13.7)(11.3,-13.5)(13.9,-14)(15.8,-14.7)(14.1,-15.5)(12.9,-15.9)
(-.7,-16)(3.3,-16.6)(-.5,-17.6)(8.5,-17.7)(11.1,-16.4)(10.5,-17)(18.8,-16.6)(28.6,-15.8)(23.5,-17.7)
(-13.8,-18.6)(-12.9,-19.8)(-.2,-19.5)(4.3,-19.7)(5.7,-19.9)(5.4,-20.8)(9.3,-20.1)(2.4,-20.5)(-7.3,-20.5)(11.2,-21.4)(11.7,-21.9)(-1.3,-21.4)(-2.2,-21.9)(.5,-21.7)(-4.6,-22)(-4,-22.5)
(-5.3,-24.7)(2.5,-24.2)(6.4,-25.1)(9.8,-23.6)(2.1,-25.8)(-11,-27.3)(-10.5,-27.6)(-6.5,-27.3)(-6.5,-29.1)(4,-29.5)(1.4,-30.9)(1.2,-32.2)(-5.8,-32.4)(.2,-33.6)
(-39.6,-8.5)(-31.6,-14.2)(-20.3,-15.6)(-28.4,-16.9)(-33,-17.6)(-33.4,-18.8)(-34.1,-19.2)(-22,-20.7)(-33,-31.5)(-16,-7.9)
};
\addplot[dot=lan] coordinates {
(-23.8,-17.6)(-32.3,-31.4)(-18.8,-28)(-15.4,-27.2)(-4.8,1)(3.9,.3)(3.5,-2.3)(11.6,-1.1)(14.7,-6)(29.3,3)(34.2,-2.6)(29.7,-7.4)(28.4,-10)(23.2,-9.3)(21.4,-13.5)
(5.1,-9.5)(7.5,-9.7)(10.5,-9.7)(-3,-11)(-6,-11.8)(-8.9,-14.9)(-8.1,-16.8)(6.9,-13.9)(12.5,-12.9)(13.7,-15)(7.5,-15.7)(8.5,-16.2)(2.8,-24)(-4.4,-30.9)(-15.2,-27.2)
};
\addplot[dot=sw] coordinates {
(-65.2,27.9)(-37.7,9.9)(-39.9,4.1)(-56,3.1)(-53.7,3.2)(-62.7,-1)(-61.2,-.5)(-58.4,-.9)(-56.9,-1.6)(-54.5,-1)(-60.3,-2.3)(-61.2,-4.5)(-56,-5.3)(-56,-6.3)(-59.9,-7.1)(-55.2,-9.5)(-57.8,-10.3)(-61,-12)
(-77.5,-2)(-78.3,-3.7)(-70.6,-2.8)(-68,-4.3)(-69.3,-5.3)(-71.2,-5.9)(-70.8,-12)(-72,-13.5)(-72.2,-20.5)(-70.6,-21.6)(-71.2,-22)(-72,-22.5)(-71.2,-23.2)(-72.7,-23.2)(-68,-23.4)(-66.5,-22.4)(-69.5,-25.3)(-74.1,-25.5)(-74.2,-25.9)
(-56.4,-18.8)(-51.7,-19.5)(-54.5,-20.5)(-59,-21.7)(-56,-26.8)(-53.5,-27.1)(-57.1,-28.2)(-34.6,-9.9)(-34.4,-11.3)(-37.3,-15.4)(-25.4,-14.1)(-24.4,-14.3)(-33.7,-19.3)(-34.7,-24.7)(-20.6,0)(-12.7,-12.7)
};
\addplot[dot=rd] coordinates {(-88.9,50.8)(-86.6,44.5)(-86.8,43.4)};
\addplot[dot=sea] coordinates {
(-90.1,49.7)(-90,49.2)(-89.8,50)(-89.5,50.3)(-89.3,50.8)(-89,50.8)(-88.8,50.6)(-89.4,49.6)(-88.2,49.6)(-86.6,49.7)(-90,50.2)(-89.6,49)
};
\end{axis}
% panel C
\begin{axis}[st=212pt]
\addplot[lay=gr] coordinates {(0,100)(1231,100)} \closedcycle;
\addplot[lay=rd] table[x expr=\coordindex*6,y index=0] {\ktwo} \closedcycle;
\end{axis}
\begin{axis}[st=125.5pt]
\addplot[lay=bl] coordinates {(0,100)(1231,100)} \closedcycle;
\addplot[lay=gr] table[x expr=\coordindex*6,y index=1] {\kthree} \closedcycle;
\addplot[lay=rd] table[x expr=\coordindex*6,y index=0] {\kthree} \closedcycle;
\end{axis}
\begin{axis}[st=39pt]
\addplot[lay=pur] coordinates {(0,100)(1231,100)} \closedcycle;
\addplot[lay=cy] table[x expr=\coordindex*6,y index=2] {\kfour} \closedcycle;
\addplot[lay=lime] table[x expr=\coordindex*6,y index=1] {\kfour} \closedcycle;
\addplot[lay=rd] table[x expr=\coordindex*6,y index=0] {\kfour} \closedcycle;
\end{axis}
% pale stripes of the striped stretches of the bar rows
\foreach \yy in {212,125.5,39} {
  \foreach \a/\b in {199/268,366/557,659/851,950/1141,1242/1427} {
    \fill[white,opacity=.15] ({\a/2*1pt},\yy pt) rectangle ({\b/2*1pt},{(\yy+71)*1pt});
    \pgfmathsetmacro\aa{\a+3}
    \foreach \x in {\a,\aa,...,\b}
      \draw[white,opacity=.3,line width=.4pt] ({\x/2*1pt},\yy pt) -- ({\x/2*1pt},{(\yy+71)*1pt});
  }
}
\fill[bargrey] (99.5pt,24.5pt) rectangle (132pt,31.5pt);
\fill[bargrey] (136.75pt,24.5pt) rectangle (216pt,31.5pt);
\fill[bargrey] (222.25pt,24.5pt) rectangle (715pt,31.5pt);
% texts
\newcommand\pxnode[4][]{\node[inner sep=0,#1] at ({#2/2*1pt},{(1249-#3)/2*1pt}) {#4};}
\pxnode{20}{23}{\fontsize{28}{28}\selectfont A}
\pxnode{681}{22}{\fontsize{28}{28}\selectfont B}
\pxnode{20}{615}{\fontsize{28}{28}\selectfont C}
\pxnode[rotate=7]{296.7}{53}{\fontsize{10.4}{11}\selectfont Outgroup}
\pxnode[rotate=-20]{477.5}{77}{\fontsize{10.4}{11}\selectfont Semi-wild}
\pxnode{312.7}{633}{\fontsize{10.5}{11}\selectfont Cultivar}
\foreach \yy/\cc/\tt in {532.7/rd/Wild,550.3/lpur/Sea island,568.7/lgrn/Semi-wild,586.7/lorg/Landrace,604/lblu/Modern cultivar} {
  \draw[\cc,line width=1.05pt] (285.3pt,{(1249-\yy)/2*1pt}) -- (304.6pt,{(1249-\yy)/2*1pt});
  \node[anchor=west,inner sep=0] at (317pt,{(1249-\yy)/2*1pt}) {\fontsize{6.5}{7}\selectfont \tt};
}
\pxnode[rotate=90]{760}{312}{\tnr\bfseries\fontsize{13.5}{14}\selectfont PC2}
\pxnode{1136}{622}{\tnr\bfseries\fontsize{12.5}{13}\selectfont PC1}
\node[anchor=west,inner sep=0] at (745.3pt,493pt) {\fontsize{9.8}{10}\selectfont Group};
\foreach \yy/\cc/\tt in {285.5/lan/Landrace,305/bl/Modern cultivar,324.5/sea/Sea island,344/sw/Semi-wild,363.5/rd/Wild} {
  \fill[\cc] (744.5pt,{(1249-\yy)/2*1pt}) circle (1.3pt);
  \node[anchor=west,inner sep=0] at (750.8pt,{(1249-\yy)/2*1pt}) {\fontsize{8.05}{9}\selectfont \tt};
}
\pxnode[rotate=90]{140}{754}{\fontsize{14.2}{15}\selectfont K=2}
\pxnode[rotate=90]{140}{921}{\fontsize{14.2}{15}\selectfont K=3}
\pxnode[rotate=90]{140}{1099}{\fontsize{14.2}{15}\selectfont K=4}
\pxnode{211}{1231}{\fontsize{16.2}{17}\selectfont Outgroup}
\pxnode{362}{1232}{\fontsize{16.2}{17}\selectfont Semi-wild}
\pxnode{828}{1233}{\fontsize{16.2}{17}\selectfont Cultivar}
\end{tikzpicture}
\end{document}
